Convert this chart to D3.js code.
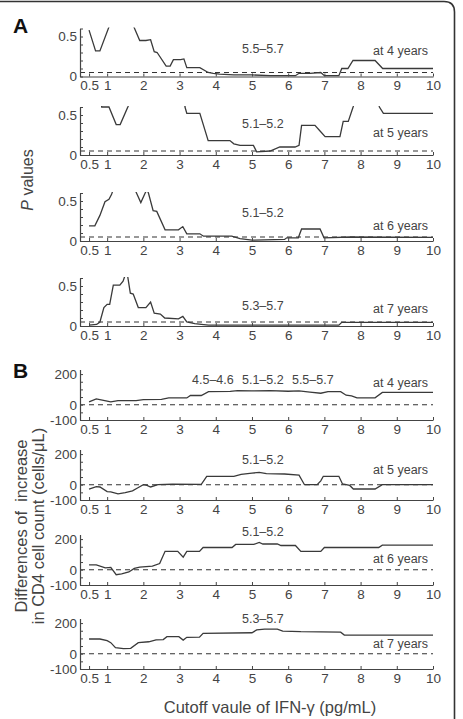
<!DOCTYPE html>
<html>
<head>
<meta charset="utf-8">
<script src="https://cdn.jsdelivr.net/npm/d3@7"></script>
<style>
body { margin: 0; background: #fff; }
text { font-family: 'Liberation Sans', Arial, sans-serif; fill: #444; }
</style>
</head>
<body>
<script>
var w = 463;
var h = 719;

// x axis (cutoff of IFN-gamma, pg/mL)
var cutoffTicks = [0.5, 1, 2, 3, 4, 5, 6, 7, 8, 9, 10];
// P value axis
var pTicks = [0, 0.1, 0.2, 0.3, 0.4, 0.5, 0.6];
var pLabels = [0, 0.5];
// difference axis (cells/uL)
var dTicks = [-100, -50, 0, 50, 100, 150, 200];
var dLabels = [-100, 0, 200];

var years = ['at 4 years', 'at 5 years', 'at 6 years', 'at 7 years'];
var pRanges = [['5.5–5.7'], ['5.1–5.2'], ['5.1–5.2'], ['5.3–5.7']];
var dRanges = [['4.5–4.6', '5.1–5.2', '5.5–5.7'], ['5.1–5.2'], ['5.1–5.2'], ['5.3–5.7']];

// P values, at 4..7 years
var p4x = [0.5, 0.68, 0.8, 1.1, 1.7, 1.9, 2.07, 2.2, 2.3, 2.38, 2.63, 2.74, 2.83, 3.03, 3.12, 3.2, 3.56, 3.79, 3.93, 4.1, 4.5, 5.0, 5.5, 6.0, 6.2, 6.3, 6.6, 6.9, 7.0, 7.4, 7.48, 7.65, 7.79, 8.4, 8.61, 10];
var p4y = [0.58, 0.32, 0.32, 0.68, 0.66, 0.45, 0.45, 0.46, 0.31, 0.3, 0.13, 0.13, 0.21, 0.21, 0.22, 0.11, 0.11, 0.05, 0.04, 0.03, 0.02, 0.02, 0.01, 0.01, 0.01, 0.04, 0.04, 0.05, 0.01, 0.01, 0.1, 0.1, 0.2, 0.2, 0.1, 0.1];

var p5x = [0.5, 0.8, 0.85, 1.05, 1.25, 1.36, 1.58, 1.7, 3.1, 3.15, 3.2, 3.56, 3.79, 4.39, 4.5, 4.67, 5.04, 5.13, 5.5, 5.77, 6.19, 6.3, 6.37, 6.74, 6.88, 7.02, 7.43, 7.52, 7.66, 7.8, 7.9, 8.4, 8.52, 8.63, 10];
var p5y = [0.8, 0.8, 0.6, 0.6, 0.38, 0.38, 0.61, 0.8, 0.8, 0.6, 0.52, 0.52, 0.18, 0.18, 0.14, 0.12, 0.12, 0.04, 0.05, 0.1, 0.1, 0.12, 0.37, 0.37, 0.3, 0.23, 0.23, 0.42, 0.42, 0.61, 0.8, 0.8, 0.6, 0.52, 0.52];

var p6x = [0.5, 0.66, 0.8, 0.94, 1.05, 1.12, 1.18, 1.75, 1.81, 1.93, 2.05, 2.1, 2.14, 2.27, 2.37, 2.6, 2.97, 3.09, 3.2, 3.56, 3.66, 4.44, 4.67, 5.0, 5.9, 5.96, 6.28, 6.37, 6.88, 6.99, 7.7, 10];
var p6y = [0.19, 0.19, 0.32, 0.49, 0.52, 0.58, 0.66, 0.66, 0.6, 0.48, 0.6, 0.64, 0.6, 0.38, 0.37, 0.14, 0.14, 0.18, 0.09, 0.09, 0.06, 0.06, 0.03, 0.01, 0.02, 0.04, 0.04, 0.15, 0.15, 0.04, 0.05, 0.045];

var p7x = [0.5, 0.71, 0.8, 0.91, 1.0, 1.07, 1.17, 1.35, 1.44, 1.5, 1.56, 1.64, 1.72, 1.86, 2.07, 2.2, 2.3, 2.47, 2.59, 2.97, 3.09, 3.2, 3.42, 3.6, 3.8, 7.4, 7.48, 10];
var p7y = [0.01, 0.02, 0.05, 0.23, 0.27, 0.27, 0.51, 0.51, 0.56, 0.64, 0.64, 0.41, 0.4, 0.23, 0.23, 0.3, 0.16, 0.15, 0.1, 0.09, 0.12, 0.05, 0.03, 0.02, 0.01, 0.01, 0.045, 0.045];

// differences of increase in CD4 count, at 4..7 years
var d4x = [0.5, 0.7, 0.9, 1.1, 1.3, 1.8, 2.0, 2.5, 2.7, 3.2, 3.3, 3.6, 3.8, 4.4, 4.6, 5.0, 5.5, 6.0, 6.3, 6.6, 6.9, 7.1, 7.45, 7.6, 7.75, 7.9, 8.4, 8.6, 10];
var d4y = [18, 38, 28, 18, 27, 27, 33, 35, 44, 44, 60, 60, 85, 87, 92, 90, 92, 88, 90, 82, 75, 85, 85, 62, 58, 45, 45, 80, 80];

var d5x = [0.5, 0.7, 0.8, 1.0, 1.1, 1.3, 1.5, 1.7, 1.85, 2.0, 2.1, 2.2, 2.4, 2.8, 3.6, 3.75, 4.5, 4.7, 5.0, 5.2, 5.4, 5.9, 6.3, 6.45, 6.8, 6.9, 6.97, 7.4, 7.5, 7.7, 7.8, 8.4, 8.6, 10];
var d5y = [-29, -13, -15, -45, -47, -60, -52, -40, -20, 0, -5, -15, 0, 3, 2, 55, 55, 68, 76, 80, 72, 70, 63, 0, 0, 25, 55, 55, 5, -5, -28, -28, 0, 0];

var d6x = [0.5, 0.7, 0.95, 1.1, 1.25, 1.4, 1.6, 1.75, 1.9, 2.25, 2.45, 2.6, 2.95, 3.1, 3.2, 3.55, 3.65, 4.45, 4.55, 5.05, 5.2, 5.3, 5.7, 5.8, 6.2, 6.35, 6.9, 7.0, 8.5, 8.6, 10];
var d6y = [31, 31, 12, 15, -33, -28, -15, 8, 17, 23, 40, 120, 120, 82, 120, 120, 145, 145, 165, 165, 178, 168, 168, 158, 158, 120, 120, 145, 145, 160, 160];

var d7x = [0.5, 0.8, 1.0, 1.1, 1.23, 1.45, 1.65, 1.86, 2.15, 2.35, 2.55, 2.65, 2.98, 3.1, 3.2, 3.55, 3.65, 5.0, 5.13, 5.35, 5.7, 5.85, 6.35, 7.45, 7.55, 10];
var d7y = [96, 96, 85, 72, 39, 33, 35, 72, 78, 90, 92, 111, 111, 89, 107, 108, 133, 137, 155, 161, 161, 148, 144, 141, 122, 122];

var pSeries = [[p4x, p4y], [p5x, p5y], [p6x, p6y], [p7x, p7y]];
var dSeries = [[d4x, d4y], [d5x, d5y], [d6x, d6y], [d7x, d7y]];

// layout
var pBase = [76.5, 155, 241, 326];
var pRangeY = [52.5, 128, 216.5, 310];
var pYearY = [54.5, 137.3, 230, 312.7];
var dBase = [420, 500, 585, 669];
var dRangeY = [384, 464.3, 535.7, 623.3];
var dYearY = [387.3, 474, 562.7, 647.7];

var svg = d3.select('body')
   .append('svg')
   .attr('width', w)
   .attr('height', h);

svg.append('rect').attr('width', w).attr('height', h).attr('fill', '#fff');

// frame
svg.append('path')
   .attr('d', 'M0,1.5 H444 Q454.5,1.5 454.5,12 V' + (h + 2))
   .attr('fill', 'none')
   .attr('stroke', '#333')
   .attr('stroke-width', 1.6);

var x = d3.scaleLinear().domain([0.25, 10]).range([80, 433]);

var line = d3.line()
   .x(function(d) { return x(d[0]); })
   .y(function(d) { return d[1]; });

function styleAxis(g, size) {
   g.select('.domain').attr('stroke', '#444').attr('stroke-width', 1.2);
   g.selectAll('.tick line').attr('stroke', '#444').attr('stroke-width', 1);
   g.selectAll('.tick text')
      .attr('fill', '#444')
      .style('font-family', "'Liberation Sans', Arial, sans-serif")
      .style('font-size', size + 'px');
}

function panel(i, kind) {
   var y, base, ticks, labels, series, dashAt;
   if (kind === 'p') {
      base = pBase[i];
      y = d3.scaleLinear().domain([0, 0.6]).range([base, base - 48]);
      ticks = pTicks; labels = pLabels; series = pSeries[i]; dashAt = 0.05;
   } else {
      base = dBase[i];
      y = d3.scaleLinear().domain([-100, 230]).range([base, base - 50.5]);
      ticks = dTicks; labels = dLabels; series = dSeries[i]; dashAt = 0;
   }
   var g = svg.append('g');

   var clipId = 'clip-' + kind + i;
   g.append('clipPath').attr('id', clipId)
      .append('rect')
      .attr('x', 80).attr('y', y.range()[1] - 1)
      .attr('width', 356).attr('height', y.range()[0] - y.range()[1] + 2);

   // dashed reference line
   g.append('line')
      .attr('x1', x(0.25)).attr('x2', x(10))
      .attr('y1', y(dashAt)).attr('y2', y(dashAt))
      .attr('stroke', '#333')
      .attr('stroke-width', 1.1)
      .attr('stroke-dasharray', '5,4');

   var pts = series[0].map(function(v, k) { return [v, y(series[1][k])]; });
   g.append('path')
      .attr('clip-path', 'url(#' + clipId + ')')
      .attr('d', line(pts))
      .attr('fill', 'none')
      .attr('stroke', '#3a3a3a')
      .attr('stroke-width', 1.3);

   var xAxis = d3.axisBottom(x)
      .tickValues(cutoffTicks)
      .tickSizeInner(-3)
      .tickSizeOuter(0)
      .tickPadding(4)
      .tickFormat(function(d) { return String(d); });
   var gx = g.append('g').attr('transform', 'translate(0,' + base + ')').call(xAxis);
   styleAxis(gx, 13.5);

   var yAxis = d3.axisLeft(y)
      .tickValues(ticks)
      .tickSizeInner(-3)
      .tickSizeOuter(0)
      .tickPadding(3)
      .tickFormat(function(d) { return labels.indexOf(d) >= 0 ? String(d) : ''; });
   var gy = g.append('g').attr('transform', 'translate(80,0)').call(yAxis);
   styleAxis(gy, 13.5);

   var ranges = kind === 'p' ? pRanges[i] : dRanges[i];
   var rangeY = kind === 'p' ? pRangeY[i] : dRangeY[i];
   var centers = ranges.length === 3 ? [3.92, 5.3, 6.68] : [5.3];
   ranges.forEach(function(r, k) {
      g.append('text')
         .attr('x', x(centers[k]))
         .attr('y', rangeY)
         .attr('text-anchor', 'middle')
         .style('font-size', '12.5px')
         .text(r);
   });

   g.append('text')
      .attr('x', 428)
      .attr('y', kind === 'p' ? pYearY[i] : dYearY[i])
      .attr('text-anchor', 'end')
      .style('font-size', '12.5px')
      .text(years[i]);
}

for (var i = 0; i < 4; i++) {
   panel(i, 'p');
   panel(i, 'd');
}

// panel letters
svg.append('text').attr('x', 13).attr('y', 33)
   .style('font-size', '21px').style('font-weight', 'bold').style('fill', '#111')
   .text('A');
svg.append('text').attr('x', 13).attr('y', 378)
   .style('font-size', '21px').style('font-weight', 'bold').style('fill', '#111')
   .text('B');

// axis titles
var pt = svg.append('text')
   .attr('transform', 'translate(33,180) rotate(-90)')
   .attr('text-anchor', 'middle')
   .style('font-size', '16px');
pt.append('tspan').style('font-style', 'italic').text('P');
pt.append('tspan').text(' values');

svg.append('text')
   .attr('transform', 'translate(27,526) rotate(-90)')
   .attr('text-anchor', 'middle')
   .style('font-size', '16.5px')
   .style('white-space', 'pre')
   .text('Differences of  increase');
svg.append('text')
   .attr('transform', 'translate(44,526) rotate(-90)')
   .attr('text-anchor', 'middle')
   .style('font-size', '16.5px')
   .text('in CD4 cell count (cells/\u03bcL)');

svg.append('text')
   .attr('x', 270)
   .attr('y', 713)
   .attr('text-anchor', 'middle')
   .style('font-size', '16.5px')
   .text('Cutoff vaule of IFN-\u03b3 (pg/mL)');
</script>
</body>
</html>
